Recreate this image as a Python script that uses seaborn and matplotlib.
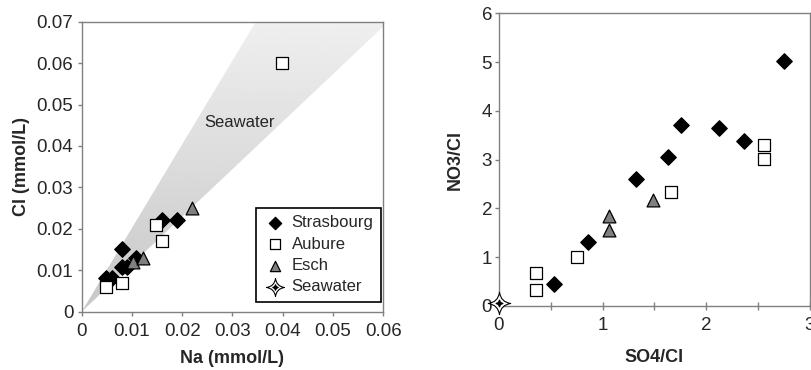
import matplotlib
matplotlib.use("Agg")
import matplotlib.pyplot as plt
import numpy as np
import seaborn as sns
from matplotlib.path import Path
from matplotlib.patches import Polygon
from matplotlib.ticker import MultipleLocator, FuncFormatter

# Left panel - Cl vs Na (mmol/L)
stras_na = [0.0049, 0.0060, 0.0081, 0.0081, 0.0090, 0.0109, 0.0160, 0.0190]
stras_cl = [0.0081, 0.0081, 0.0151, 0.0109, 0.0109, 0.0130, 0.0221, 0.0221]
aub_na = [0.0048, 0.0080, 0.0147, 0.0159, 0.0398]
aub_cl = [0.0060, 0.0070, 0.0209, 0.0171, 0.0601]
esch_na = [0.0103, 0.0121, 0.0220]
esch_cl = [0.0120, 0.0129, 0.0250]

# seawater band (Cl/Na ratios of the two edges)
band_ratio_low = 1.147
band_ratio_high = 2.02

# Right panel - NO3/Cl vs SO4/Cl
stras_so4 = [0.53, 0.86, 1.32, 1.63, 1.76, 2.12, 2.36, 2.75]
stras_no3 = [0.45, 1.32, 2.61, 3.06, 3.71, 3.64, 3.38, 5.02]
aub_so4 = [0.36, 0.36, 0.75, 1.66, 2.56, 2.56]
aub_no3 = [0.33, 0.67, 1.01, 2.34, 3.01, 3.30]
esch_so4 = [1.06, 1.06, 1.49]
esch_no3 = [1.84, 1.55, 2.17]
sea_so4 = [0.0]
sea_no3 = [0.06]

sns.set_style("ticks")
plt.rcParams['font.family'] = ['Liberation Sans', 'DejaVu Sans']
plt.rcParams['font.size'] = 12


def star_path(k=0.12):
    # 4-point star with concave curved sides
    pts = [(0, 1), (1, 0), (0, -1), (-1, 0)]
    verts = [pts[0]]
    codes = [Path.MOVETO]
    for i in range(4):
        nxt = pts[(i + 1) % 4]
        cx = (pts[i][0] + nxt[0]) * k
        cy = (pts[i][1] + nxt[1]) * k
        verts += [(cx, cy), nxt]
        codes += [Path.CURVE3, Path.CURVE3]
    verts.append(pts[0])
    codes.append(Path.CLOSEPOLY)
    return Path(verts, codes)


star = star_path()

fig = plt.figure(figsize=(8.12, 3.70), dpi=100)
ax1 = fig.add_axes([0.1006, 0.1576, 0.3714, 0.7838])
ax2 = fig.add_axes([0.6145, 0.173, 0.3830, 0.791])

grey = '#808080'

# Seawater band with a vertical grey gradient
xmax1, ymax1 = 0.06, 0.07
band = Polygon([(0, 0), (ymax1 / band_ratio_high, ymax1), (xmax1, ymax1),
                (xmax1, xmax1 * band_ratio_low)], closed=True,
               facecolor='none', edgecolor='none', transform=ax1.transData)
ax1.add_patch(band)
grad = np.linspace(0, 1, 256).reshape(-1, 1)
img = ax1.imshow(grad, extent=[0, xmax1, 0, ymax1], origin='lower', aspect='auto',
                 cmap='gray', vmin=-5.0, vmax=1.4, zorder=0)
img.set_clip_path(band)
ax1.text(0.0315, 0.0456, 'Seawater', ha='center', va='center', fontsize=12)

groups = [
    ('Strasbourg', 'D', 'black', 62),
    ('Aubure', 's', 'white', 85),
    ('Esch', '^', grey, 85),
]
left_data = {'Strasbourg': (stras_na, stras_cl), 'Aubure': (aub_na, aub_cl),
             'Esch': (esch_na, esch_cl)}
right_data = {'Strasbourg': (stras_so4, stras_no3), 'Aubure': (aub_so4, aub_no3),
              'Esch': (esch_so4, esch_no3)}

for name, mk, col, size in groups:
    x, y = left_data[name]
    sns.scatterplot(x=x, y=y, marker=mk, color=col, edgecolor='black', linewidth=0.9,
                    s=size, ax=ax1, zorder=3)
    x, y = right_data[name]
    sns.scatterplot(x=x, y=y, marker=mk, color=col, edgecolor='black', linewidth=0.9,
                    s=size, ax=ax2, zorder=3, label=name)

sns.scatterplot(x=sea_so4, y=sea_no3, marker=star, color='white', edgecolor='black',
                linewidth=0.8, s=260, ax=ax2, zorder=4, label='Seawater', clip_on=False)
dot = ax2.scatter(sea_so4, sea_no3, marker=star, color='black', s=22, zorder=5, clip_on=False)

# Left axis formatting
ax1.set_xlim(0, xmax1)
ax1.set_ylim(0, ymax1)
ax1.set_xticks(np.arange(0, 0.061, 0.01))
ax1.set_yticks(np.arange(0, 0.071, 0.01))
ax1.xaxis.set_major_formatter(FuncFormatter(lambda v, p: '0' if abs(v) < 1e-9 else f'{v:.2f}'))
ax1.yaxis.set_major_formatter(FuncFormatter(lambda v, p: '0' if abs(v) < 1e-9 else f'{v:.2f}'))
ax1.set_xlabel('Na (mmol/L)', fontweight='bold', fontsize=13, labelpad=7)
ax1.set_ylabel('Cl (mmol/L)', fontweight='bold', fontsize=13, labelpad=5)

# Right axis formatting
ax2.set_xlim(0, 3)
ax2.set_ylim(0, 6)
ax2.xaxis.set_major_locator(MultipleLocator(1))
ax2.xaxis.set_minor_locator(MultipleLocator(0.5))
ax2.yaxis.set_major_locator(MultipleLocator(1))
ax2.set_xlabel('SO4/Cl', fontweight='bold', fontsize=13, labelpad=11)
ax2.set_ylabel('NO3/Cl', fontweight='bold', fontsize=13, labelpad=13)

for ax in (ax1, ax2):
    for sp in ax.spines.values():
        sp.set_color(grey)
        sp.set_linewidth(1.0)
        sp.set_visible(True)
    ax.tick_params(which='both', direction='out', length=3, width=1, color=grey,
                   labelsize=13.5, pad=3)
ax1.tick_params(axis='x', pad=5)
ax2.tick_params(axis='x', which='both', direction='inout', length=6, pad=5)
ax2.tick_params(axis='y', pad=2)

# Legend goes on the left panel
handles, labels = ax2.get_legend_handles_labels()
ax2.get_legend().remove()
handles[-1] = (handles[-1], dot)
leg = ax1.legend(handles, labels, loc='lower right', bbox_to_anchor=(0.992, 0.034),
                 fancybox=False, edgecolor='black', framealpha=1, fontsize=12,
                 labelspacing=0.38, handletextpad=0.35, borderpad=0.45, borderaxespad=0,
                 handlelength=1.3, markerscale=0.8)
leg.get_frame().set_linewidth(1.2)

fig.savefig('out.png', dpi=100)
